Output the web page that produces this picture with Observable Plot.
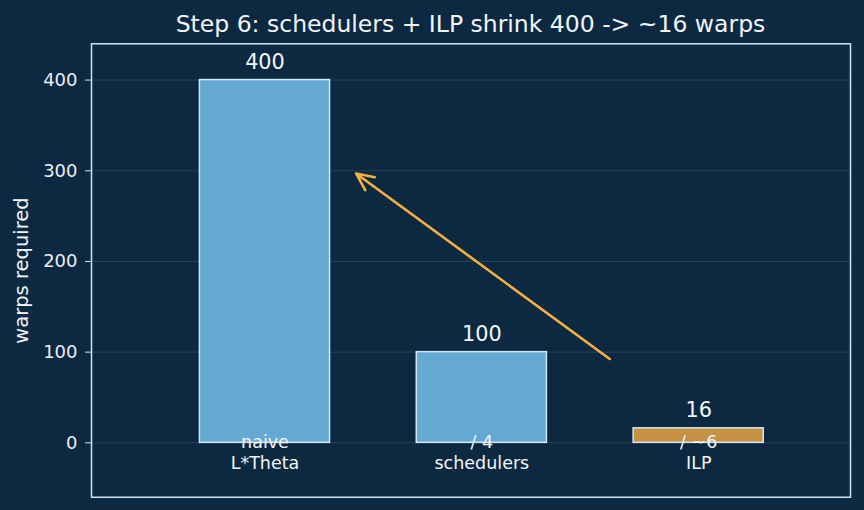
<!DOCTYPE html>
<html><head><meta charset="utf-8">
<script src="https://cdn.jsdelivr.net/npm/d3@7"></script>
<script src="https://cdn.jsdelivr.net/npm/@observablehq/plot@0.6"></script>
<style>
html,body{margin:0;padding:0;background:#0c2941;}
#wrap{width:864px;height:510px;background:#0c2941;font-family:"DejaVu Sans",sans-serif;overflow:hidden;}
#title{position:relative;height:40px;}
#title span{position:absolute;left:91px;width:759px;top:12.5px;text-align:center;font-size:23.5px;line-height:23.5px;color:#f2f6fa;white-space:nowrap;}
#chart svg{display:block;}
</style></head><body>
<div id="wrap"><div id="title"><span id="titletext"></span></div><div id="chart"></div></div>
<script>
// ---- data ----
const titleText = "Step 6: schedulers + ILP shrink 400 -> ~16 warps";
const categories = ["naive\nL*Theta", "/ 4\nschedulers", "/ ~6\nILP"];
const warps = [400, 100, 16];
const valueLabels = ["400", "100", "16"];
const yTicks = [0, 100, 200, 300, 400];
const yLabel = "warps required";
const arrowFrom = [1.59, 92.5];
const arrowTo = [0.42, 297];

// ---- build ----
document.getElementById("titletext").textContent = titleText;
const data = categories.map((c, i) => ({category: c, index: i, warps: warps[i], label: valueLabels[i]}));
const barWidth = 0.6;
const textColor = "#f2f6fa";

const chart = Plot.plot({
  width: 864,
  height: 470,
  marginTop: 3.3,
  marginBottom: 13.25,
  marginLeft: 91,
  marginRight: 14,
  style: {background: "#0c2941", color: "#e9f0f6", fontFamily: "DejaVu Sans, sans-serif"},
  x: {type: "linear", domain: [-0.8, 2.7], axis: null},
  y: {domain: [-60, 440], axis: null},
  color: {domain: categories, range: ["#63a9d1", "#63a9d1", "#c79144"]},
  marks: [
    Plot.gridY(yTicks, {stroke: "#ffffff", strokeOpacity: 0.12, strokeWidth: 1}),
    Plot.rectY(data, {x1: d => d.index - barWidth / 2, x2: d => d.index + barWidth / 2, y1: 0, y2: "warps", fill: "category", stroke: "#d4e8f6", strokeWidth: 1.5}),
    Plot.text(data, {x: "index", y: "warps", text: "label", lineAnchor: "bottom", dy: -11, fontSize: 20.8, fill: textColor}),
    Plot.text(data, {x: "index", y: 0, text: "category", lineAnchor: "top", dy: -9.5, fontSize: 17.5, lineHeight: 1.18, fill: textColor}),
    Plot.arrow([{from: arrowFrom, to: arrowTo}], {x1: d => d.from[0], y1: d => d.from[1], x2: d => d.to[0], y2: d => d.to[1], stroke: "#f5b041", strokeWidth: 2.6, headLength: 11, headAngle: 50}),
    Plot.axisY({ticks: yTicks, tickSize: 6, tickPadding: 8, fontSize: 18, label: null, stroke: "#d0e2f0"}),
    Plot.text([yLabel], {frameAnchor: "left", textAnchor: "middle", dx: -69.5, rotate: -90, fontSize: 19.5, text: d => d, fill: textColor}),
    Plot.frame({stroke: "#d0e2f0", strokeWidth: 1.5})
  ]
});
document.getElementById("chart").appendChild(chart);
</script>
</body></html>
